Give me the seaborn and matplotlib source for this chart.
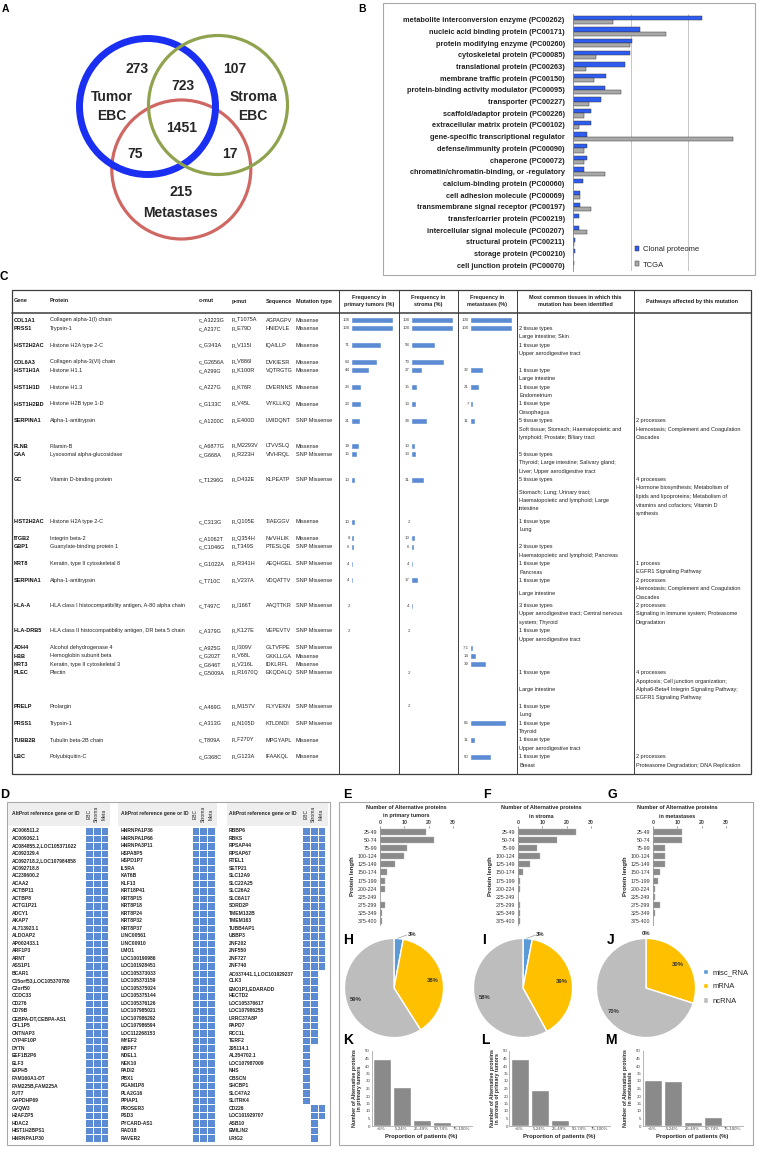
import pandas as pd
import seaborn as sns
import matplotlib.pyplot as plt
from matplotlib.patches import Circle, Rectangle
from matplotlib.colors import ListedColormap

sns.set_theme(style="white")
plt.rcParams['font.family'] = ['Liberation Sans', 'DejaVu Sans']

W, H = 758, 1150

# ---------------- data ----------------
# A: Venn
venn_counts = [273, 723, 107, 1451, 75, 17, 215]
venn_names = [['Tumor', 'EBC'], ['Stroma', 'EBC'], ['Metastases']]

# B: protein classes (% of proteins)
pc_classes = ['metabolite interconversion enzyme (PC00262)', 'nucleic acid binding protein (PC00171)',
              'protein modifying enzyme (PC00260)', 'cytoskeletal protein (PC00085)',
              'translational protein (PC00263)', 'membrane traffic protein (PC00150)',
              'protein-binding activity modulator (PC00095)', 'transporter (PC00227)',
              'scaffold/adaptor protein (PC00226)', 'extracellular matrix protein (PC00102)',
              'gene-specific transcriptional regulator', 'defense/immunity protein (PC00090)',
              'chaperone (PC00072)', 'chromatin/chromatin-binding, or -regulatory',
              'calcium-binding protein (PC00060)', 'cell adhesion molecule (PC00069)',
              'transmembrane signal receptor (PC00197)', 'transfer/carrier protein (PC00219)',
              'intercellular signal molecule (PC00207)', 'structural protein (PC00211)',
              'storage protein (PC00210)', 'cell junction protein (PC00070)']
clonal = [22.4, 11.7, 10.3, 9.9, 9.1, 5.8, 5.6, 4.8, 3.2, 3.1, 2.4, 2.4, 2.4, 1.9, 1.8, 1.2, 1.2, 1.0, 1.0, 0.3, 0.3, 0.2]
tcga = [7.0, 16.2, 9.8, 4.0, 2.3, 3.7, 8.3, 2.8, 1.9, 1.0, 27.7, 1.9, 1.9, 5.6, 0.0, 1.3, 3.1, 0.0, 2.4, 0.2, 0.0, 0.0]

# C: mutation table
genes = ['COL1A1', 'PRSS1', 'HIST2H2AC', 'COL6A3', 'HIST1H1A', 'HIST1H1D', 'HIST1H2BD', 'SERPINA1', 'FLNB', 'GAA',
         'GC', 'HIST2H2AC', 'ITGB2', 'GBP1', 'KRT8', 'SERPINA1', 'HLA-A', 'HLA-DRB5', 'ADH4', 'HBB', 'KRT3', 'PLEC',
         'PRELP', 'PRSS1', 'TUBB2B', 'UBC']
proteins = ['Collagen alpha-1(I) chain', 'Trypsin-1', 'Histone H2A type 2-C', 'Collagen alpha-3(VI) chain',
            'Histone H1.1', 'Histone H1.3', 'Histone H2B type 1-D', 'Alpha-1-antitrypsin', 'Filamin-B',
            'Lysosomal alpha-glucosidase', 'Vitamin D-binding protein', 'Histone H2A type 2-C', 'Integrin beta-2',
            'Guanylate-binding protein 1', 'Keratin, type II cytoskeletal 8', 'Alpha-1-antitrypsin',
            'HLA class I histocompatibility antigen, A-80 alpha chain',
            'HLA class II histocompatibility antigen, DR beta 5 chain', 'Alcohol dehydrogenase 4',
            'Hemoglobin subunit beta', 'Keratin, type II cytoskeletal 3', 'Plectin', 'Prolargin', 'Trypsin-1',
            'Tubulin beta-2B chain', 'Polyubiquitin-C']
c_mut = ['c_A3223G', 'c_A237C', 'c_G343A', 'c_G2656A', 'c_A299G', 'c_A227G', 'c_G133C', 'c_A1200C', 'c_A6877G',
         'c_G668A', 'c_T1296G', 'c_C313G', 'c_A1062T', 'c_C1046G', 'c_G1022A', 'c_T710C', 'c_T497C', 'c_A379G',
         'c_A925G', 'c_G202T', 'c_G646T', 'c_G5009A', 'c_A469G', 'c_A313G', 'c_T809A', 'c_G368C']
p_mut = ['p_T1075A', 'p_E79D', 'p_V115I', 'p_V886I', 'p_K100R', 'p_K76R', 'p_V45L', 'p_E400D', 'p_M2293V',
         'p_R223H', 'p_D432E', 'p_Q105E', 'p_Q354H', 'p_T349S', 'p_R341H', 'p_V237A', 'p_I166T', 'p_K127E',
         'p_I309V', 'p_V68L', 'p_V216L', 'p_R1670Q', 'p_M157V', 'p_N105D', 'p_F270Y', 'p_G123A']
sequences = ['AGPAGPV', 'HNIDVLE', 'IQAILLP', 'DVKIESR', 'VQTRGTG', 'DVERNNS', 'VYKLLKQ', 'LMIDQNT', 'LTVVSLQ',
             'VIVHRQL', 'KLPEATP', 'TIAEGGV', 'NVVHLIK', 'PTESLQE', 'AEQHGEL', 'VDQATTV', 'AAQTTKR', 'VEPEVTV',
             'GLTVFPE', 'GKKLLGA', 'IDKLRFL', 'EKQDALQ', 'FLYVEKN', 'KTLDNDI', 'MPGYAPL', 'IFAAKQL']
mut_types = ['Missense', 'Missense', 'Missense', 'Missense', 'Missense', 'Missense', 'Missense', 'SNP Missense',
             'Missense', 'SNP Missense', 'SNP Missense', 'Missense', 'Missense', 'SNP Missense', 'SNP Missense',
             'SNP Missense', 'SNP Missense', 'SNP Missense', 'SNP Missense', 'Missense', 'Missense', 'SNP Missense',
             'SNP Missense', 'SNP Missense', 'Missense', 'Missense']
freq_primary = [100, 100, 71, 63, 44, 23, 23, 21, 19, 15, 10, 10, 8, 6, 4, 4, 2, 2,
                None, None, None, None, None, None, None, None]
freq_stroma = [100, 100, 58, 79, 27, 15, 13, 38, 10, 13, 31, 2, 10, 6, 4, 17, 4, 2,
               None, None, None, 2, 2, None, None, None]
freq_meta = [100, 100, None, None, 32, 21, 7, 11, None, None, None, None, None, None, None, None, None, None,
             7.1, 14, 39, None, None, 86, 11, 50]
tissue_text = [['2 tissue types', 'Large intestine; Skin'], ['1 tissue type', 'Upper aerodigestive tract'],
               ['1 tissue type', 'Large intestine'], ['1 tissue type', 'Endometrium'],
               ['1 tissue type', 'Oesophagus'],
               ['5 tissue types', 'Soft tissue; Stomach; Haematopoietic and', 'lymphoid; Prostate; Biliary tract'],
               ['5 tissue types', 'Thyroid; Large intestine; Salivary gland;', 'Liver; Upper aerodigestive tract'],
               ['5 tissue types'],
               ['Stomach; Lung; Urinary tract;', 'Haematopoietic and lymphoid; Large', 'intestine'],
               ['1 tissue type', 'Lung'], ['2 tissue types', 'Haematopoietic and lymphoid; Pancreas'],
               ['1 tissue type', 'Pancreas'], ['1 tissue type'], ['Large intestine'],
               ['3 tissue types', 'Upper aerodigestive tract; Central nervous', 'system; Thyroid'],
               ['1 tissue type', 'Upper aerodigestive tract'], ['1 tissue type'], ['Large intestine'],
               ['1 tissue type', 'Lung'], ['1 tissue type', 'Thyroid'],
               ['1 tissue type', 'Upper aerodigestive tract'], ['1 tissue type', 'Breast']]
pathway_text = [['2 processes', 'Hemostasis; Complement and Coagulation', 'Cascades'],
                ['4 processes', 'Hormone biosynthesis; Metabolism of', 'lipids and lipoproteins; Metabolism of',
                 'vitamins and cofactors; Vitamin D', 'synthesis'],
                ['1 process', 'EGFR1 Signaling Pathway'],
                ['2 processes', 'Hemostasis; Complement and Coagulation', 'Cascades'],
                ['2 processes', 'Signaling in Immune system; Proteasome', 'Degradation'],
                ['4 processes', 'Apoptosis; Cell junction organization;',
                 'Alpha6-Beta4 Integrin Signaling Pathway;', 'EGFR1 Signaling Pathway'],
                ['2 processes', 'Proteasome Degradation; DNA Replication']]

# D: AltProt lists and detection (EBC, Stroma, Meta)
d_col1 = ['AC006511.2', 'AC009362.1', 'AC084855.2,LOC105371022', 'AC092329.4', 'AC092718.2,LOC107984858',
          'AC092718.8', 'AC239600.2', 'ACAA2', 'ACTBP11', 'ACTBP8', 'ACTG1P21', 'ADCY1', 'AKAP7', 'AL713923.1',
          'ALDOAP2', 'AP002433.1', 'ARF1P3', 'ARNT', 'ASS1P1', 'BCAR1', 'C15orf53,LOC105370780', 'C2orf50',
          'CCDC33', 'CD276', 'CD79B', 'CEBPA-DT,CEBPA-AS1', 'CFL1P5', 'CNTNAP3', 'CYP4F10P', 'DYTN', 'EEF1B2P6',
          'ELF3', 'EXPH5', 'FAM160A1-DT', 'FAM225B,FAM225A', 'FUT7', 'GAPDHP69', 'GVQW3', 'H2AFZP5', 'HDAC2',
          'HIST1H2BPS1', 'HNRNPA1P30']
d_col2 = ['HNRNPA1P36', 'HNRNPA1P66', 'HNRNPA3P11', 'HSPA8P5', 'HSPD1P7', 'IL5RA', 'KAT6B', 'KLF13', 'KRT18P41',
          'KRT8P15', 'KRT8P18', 'KRT8P24', 'KRT8P32', 'KRT8P37', 'LINC00561', 'LINC00910', 'LMO1', 'LOC100190986',
          'LOC101928451', 'LOC105373033', 'LOC105373159', 'LOC105375024', 'LOC105375144', 'LOC105376126',
          'LOC107985021', 'LOC107986292', 'LOC107986594', 'LOC112268153', 'MYEF2', 'NBPF7', 'NDEL1', 'NEK10',
          'PADI2', 'PBX1', 'PGAM1P8', 'PLA2G16', 'PPIAP1', 'PROSER3', 'PSD3', 'PYCARD-AS1', 'RAD18', 'RAVER2']
d_col3 = ['RBBP6', 'RBKS', 'RPSAP44', 'RPSAP67', 'RTEL1', 'SETP21', 'SLC12A9', 'SLC22A25', 'SLC26A2', 'SLC6A17',
          'SORD2P', 'TMEM132B', 'TMEM163', 'TUBB4AP1', 'UBBP3', 'ZNF202', 'ZNF550', 'ZNF727', 'ZNF740',
          'AC037441.1,LOC101929237', 'CLK3', 'ENO1P1,EDARADD', 'HECTD2', 'LOC105376617', 'LOC107986255',
          'LRRC37A8P', 'PAPD7', 'RCC1L', 'TERF2', 'Z95114.1', 'AL354702.1', 'LOC107987009', 'NHS', 'OBSCN',
          'SHCBP1', 'SLC47A2', 'SLITRK4', 'CD226', 'LOC101929707', 'ASB10', 'EMILIN2', 'LRIG2']
d3_ebc = [1, 1, 1, 1, 1, 1, 1, 1, 1, 1, 1, 1, 1, 1, 1, 1, 1, 1, 1, 1, 1, 1, 1, 1, 1, 1, 1, 1, 1,
          1, 1, 1, 1, 1, 1, 1, 1, 0, 0, 0, 0, 0]
d3_stroma = [1, 1, 1, 1, 1, 1, 1, 1, 1, 1, 1, 1, 1, 1, 1, 1, 1, 1, 1, 1, 1, 1, 1, 1, 1, 1, 1, 1, 1,
             0, 0, 0, 0, 0, 0, 0, 0, 1, 1, 1, 1, 1]
d3_meta = [1, 1, 1, 1, 1, 1, 1, 1, 1, 1, 1, 1, 1, 1, 1, 1, 1, 1, 1, 0, 0, 0, 0, 0, 0, 0, 0, 0, 0,
           0, 0, 0, 0, 0, 0, 0, 0, 1, 1, 0, 0, 0]

# E-G: protein length distributions
length_bins = ['25-49', '50-74', '75-99', '100-124', '125-149', '150-174', '175-199', '200-224', '225-249',
               '275-299', '325-349', '375-400']
len_primary = [19, 22, 11, 10, 6, 3, 2, 2, 0, 2, 1, 1]
len_stroma = [24, 16, 8, 9, 5, 2, 1, 1, 0, 1, 1, 1]
len_meta = [12, 12, 5, 5, 5, 3, 2, 1, 1, 3, 1, 0]

# H-J: RNA type (%)
rna_types = ['misc_RNA', 'mRNA', 'ncRNA']
pie_primary = [3, 38, 59]
pie_stroma = [3, 39, 58]
pie_meta = [0, 30, 70]

# K-M: proportion of patients
patient_bins = ['<5%', '5-24%', '25-49%', '50-74%', '75-100%']
prop_primary = [45, 26, 4, 3, 0]
prop_stroma = [45, 24, 4, 0, 0]
prop_meta = [31, 30, 3, 6, 0]

# ---------------- layout ----------------
fig = plt.figure(figsize=(W / 100, H / 100), dpi=100)


def px_axes(x0, y0, x1, y1):
    return fig.add_axes([x0 / W, 1 - y1 / H, (x1 - x0) / W, (y1 - y0) / H])


ov = px_axes(0, 0, W, H)
ov.set_xlim(0, W)
ov.set_ylim(H, 0)
ov.axis('off')

for s, x, y, fs in [('A', 5, 9, 7.5), ('B', 362, 9, 7.5), ('C', 4, 277, 8.5), ('D', 5, 795, 9),
                    ('E', 347, 795, 9), ('F', 487, 795, 9), ('G', 612, 795, 9),
                    ('H', 348, 940, 10), ('I', 484, 940, 10), ('J', 611, 940, 10),
                    ('K', 348, 1040, 10), ('L', 485, 1040, 10), ('M', 611, 1040, 10)]:
    ov.text(x, y, s, fontsize=fs, fontweight='bold', ha='center', va='center', color='black')

# ---- A: Venn ----
for (cx, cy), r, col, lw in [((181.3, 169.5), 69.5, '#cf6863', 2.3), ((147.5, 106.5), 68, '#1a2ff2', 5.0),
                             ((218, 105), 69.5, '#8fa34e', 2.3)]:
    ov.add_patch(Circle((cx, cy), r, fill=False, ec=col, lw=lw))
venn_pos = [(137, 69), (183, 86), (235, 69), (182, 128), (135, 154), (230, 154), (181, 192)]
for n, (x, y) in zip(venn_counts, venn_pos):
    ov.text(x, y, str(n), fontsize=10, fontweight='bold', ha='center', va='center')
for lines, (x, y) in zip(venn_names, [(112, 97), (253, 97), (181, 213)]):
    for i, t in enumerate(lines):
        ov.text(x, y + 19 * i, t, fontsize=10, fontweight='bold', ha='center', va='center')

# ---- B ----
ov.add_patch(Rectangle((383, 3), 372, 272, fill=False, ec='#a8a8a8', lw=0.8))
axB = px_axes(573, 14, 746, 271)
dfB = pd.DataFrame({'cls': pc_classes * 2, 'pct': clonal + tcga,
                    'src': ['Clonal proteome'] * len(pc_classes) + ['TCGA'] * len(pc_classes)})
sns.barplot(data=dfB, y='cls', x='pct', hue='src', orient='h', palette=['#2e5cf2', '#a9a9a9'], width=0.72,
            saturation=1, edgecolor='#3a3a3a', linewidth=0.35, ax=axB)
axB.set_xlim(0, 30)
axB.set_xticks([10, 20, 30])
axB.xaxis.grid(True, color='#bdbdbd', lw=0.6)
axB.tick_params(axis='x', labelbottom=False, length=0)
axB.tick_params(axis='y', labelsize=5.3, pad=6, length=0)
for lab in axB.get_yticklabels():
    lab.set_fontweight('bold')
    lab.set_color('#222222')
axB.set_xlabel('')
axB.set_ylabel('')
for sp in ['top', 'right', 'bottom']:
    axB.spines[sp].set_visible(False)
axB.spines['left'].set_color('#888888')
axB.spines['left'].set_linewidth(0.6)
axB.patch.set_visible(False)
axB.legend(loc='upper left', bbox_to_anchor=(628 / W, 1 - 239 / H), bbox_transform=fig.transFigure,
           frameon=False, fontsize=5.5, handlelength=0.6, handleheight=0.6, labelspacing=1.1,
           handletextpad=0.4, title=None)

# ---- C: table ----
def line_y(k):
    return 320 + 8.4 * k


row_line = [0, 1, 3, 5, 6, 8, 10, 12, 15, 16, 19, 24, 26, 27, 29, 31, 34, 37, 39, 40, 41, 42, 46, 48, 50, 52]
tissue_line = [1, 3, 6, 8, 10, 12, 16, 19, 20.5, 24, 27, 29, 31, 32.5, 34, 37, 42, 44, 46, 48, 50, 52]
pathway_line = [12, 19, 29, 31, 34, 42, 52]
col_x = [14, 50, 199, 232, 266, 296]
fc_left = [339, 399, 458]
line_c = '#3c3c3c'
ov.add_patch(Rectangle((12, 290), 739, 484, fill=False, ec=line_c, lw=0.9))
ov.plot([12, 751], [313, 313], color=line_c, lw=1.1)
for x in [339, 399, 458, 517, 634]:
    ov.plot([x, x], [290, 774], color=line_c, lw=0.7)
hdr = dict(fontsize=4, fontweight='bold', va='center', color='#222222')
for x, t in zip(col_x, ['Gene', 'Protein', 'c-mut', 'p-mut', 'Sequence', 'Mutation type']):
    ov.text(x, 301, t, ha='left', **hdr)
for x, t in zip([369, 428.5, 487.5, 575.5], ['Frequency in\nprimary tumors (%)', 'Frequency in\nstroma (%)',
                                            'Frequency in\nmetastases (%)',
                                            'Most common tissues in which this\nmutation has been identified']):
    ov.text(x, 301, t, ha='center', linespacing=1.5, **hdr)
ov.text(692.5, 301, 'Pathways affected by this mutation', ha='center', **hdr)

for i, k in enumerate(row_line):
    y = line_y(k)
    ov.text(col_x[0], y, genes[i], fontsize=4, fontweight='bold', va='center', color='#111111')
    for x, col in zip(col_x[1:], [proteins, c_mut, p_mut, sequences, mut_types]):
        ov.text(x, y, col[i], fontsize=4, va='center', color='#222222')
for k0, lines in zip(tissue_line, tissue_text):
    for j, t in enumerate(lines):
        ov.text(519, line_y(k0 + j), t, fontsize=4, va='center', color='#222222')
for k0, lines in zip(pathway_line, pathway_text):
    for j, t in enumerate(lines):
        ov.text(636, line_y(k0 + j), t, fontsize=4, va='center', color='#222222')

for left, freqs in zip(fc_left, [freq_primary, freq_stroma, freq_meta]):
    ax = px_axes(left + 12, line_y(-0.5), left + 54, line_y(53.5))
    pairs = [(k, v) for k, v in zip(row_line, freqs) if v is not None]
    dfc = pd.DataFrame({'line': [p[0] for p in pairs], 'freq': [p[1] for p in pairs]})
    sns.barplot(data=dfc, x='freq', y='line', orient='y', native_scale=True, color='#5b8cd3',
                saturation=1, width=0.72, ax=ax)
    ax.set_xlim(0, 100)
    ax.set_ylim(53.5, -0.5)
    ax.axis('off')
    for k, v in pairs:
        lab = str(int(v)) if float(v).is_integer() else str(v).replace('.', ',')
        ax.text(-3, k, lab, fontsize=3.2, ha='right', va='center', color='#444444', clip_on=False)

# ---- D ----
ov.add_patch(Rectangle((7, 802), 323, 343, fill=False, ec='#a8a8a8', lw=0.8))
d_blocks = [(d_col1, [[1, 1, 1]] * len(d_col1), 12, 85, 8, 110),
            (d_col2, [[1, 1, 1]] * len(d_col2), 121, 191.5, 118, 217),
            (d_col3, [list(t) for t in zip(d3_ebc, d3_stroma, d3_meta)], 229, 302, 227, 328)]
row_h = 7.49
for names, mat, tx, hx, bx0, bx1 in d_blocks:
    ov.add_patch(Rectangle((bx0, 803), bx1 - bx0, 23, fc='#eeeeee', ec='none'))
    ov.text(tx, 814, 'AltProt reference gene or ID', fontsize=3.6, fontweight='bold', va='center')
    for j, t in enumerate(['EBC', 'Stroma', 'Meta']):
        ov.text(hx + 3.9 + 7.8 * j, 814, t, fontsize=3.6, rotation=90, ha='center', va='center')
    for i, nm in enumerate(names):
        ov.text(tx, 831 + row_h * i, nm, fontsize=3.6, fontweight='bold', va='center', color='#222222')
    ax = px_axes(hx, 831 - row_h / 2, hx + 23.4, 831 + row_h * (len(names) - 0.5))
    sns.heatmap(pd.DataFrame(mat, columns=['EBC', 'Stroma', 'Meta']), cmap=ListedColormap(['white', '#5b8cd3']),
                vmin=0, vmax=1, cbar=False, linewidths=0.7, linecolor='white',
                xticklabels=False, yticklabels=False, ax=ax)

# ---- E-M box ----
ov.add_patch(Rectangle((339, 802), 414, 343, fill=False, ec='#a8a8a8', lw=0.8))

# E-G
for x0, vals, sub, tcx in [(380, len_primary, 'in primary tumors', 406),
                           (518, len_stroma, 'in stroma', 541),
                           (653, len_meta, 'in metastases', 677)]:
    ov.text(tcx, 808, 'Number of Alternative proteins', fontsize=4, fontweight='bold', ha='center', va='center')
    ov.text(tcx, 816, sub, fontsize=4, fontweight='bold', ha='center', va='center')
    ax = px_axes(x0, 828, x0 + 73, 925)
    sns.barplot(x=vals, y=length_bins, orient='h', color='#8a8a8a', saturation=1, width=0.75,
                edgecolor='#b5b5b5', linewidth=0.3, ax=ax)
    ax.set_xlim(0, 30)
    ax.set_xticks([0, 10, 20, 30])
    ax.xaxis.tick_top()
    ax.tick_params(axis='x', labelsize=3.8, pad=1, length=1.5, width=0.4, colors='#444444', top=True)
    ax.tick_params(axis='y', labelsize=3.8, pad=2, length=0, colors='#333333')
    for lab in ax.get_xticklabels():
        lab.set_fontweight('bold')
    ax.set_ylabel('Protein length', fontsize=4.2, fontweight='bold', labelpad=2)
    for sp in ['top', 'right', 'bottom']:
        ax.spines[sp].set_visible(False)
    ax.spines['left'].set_color('#999999')
    ax.spines['left'].set_linewidth(0.6)
    ax.patch.set_visible(False)

# H-J pies
pie_colors = ['#5b9bd5', '#ffc000', '#bdbdbd']
for cx, vals, lab_pos, leader in [(394, pie_primary, (0.28, 1.08), True),
                                  (523, pie_stroma, (0.26, 1.08), True),
                                  (646, pie_meta, (0.0, 1.1), False)]:
    ax = px_axes(cx - 62, 988 - 62, cx + 62, 988 + 62)
    wedges, _, autotexts = ax.pie(vals, colors=pie_colors, startangle=90, counterclock=False,
                                  autopct=lambda p: f'{p:.0f}%', pctdistance=0.8,
                                  textprops=dict(fontsize=4.2, fontweight='bold', color='#333333'))
    autotexts[0].set_position(lab_pos)
    autotexts[0].set_ha('left' if leader else 'center')
    if leader:
        ax.plot([0.07, 0.26], [1.0, 1.07], color='#888888', lw=0.4)
    ax.set_xlim(-1.25, 1.25)
    ax.set_ylim(-1.25, 1.25)
ax.legend(wedges, rna_types, loc='upper left', bbox_to_anchor=(696 / W, 1 - 962 / H),
          bbox_transform=fig.transFigure, frameon=False, fontsize=5.5, handlelength=0.7, handleheight=0.7,
          labelspacing=0.9, handletextpad=0.5)

# K-M
for x0, vals, ylab in [(371.5, prop_primary, 'Number of Alternative proteins\nin primary tumors'),
                       (509.5, prop_stroma, 'Number of Alternative proteins\nin stroma of primary tumors'),
                       (642.5, prop_meta, 'Number of Alternative proteins\nin metastasis')]:
    ax = px_axes(x0, 1051, x0 + 100, 1126)
    sns.barplot(x=patient_bins, y=vals, color='#8a8a8a', saturation=1, width=0.9, ax=ax)
    ax.set_xlim(-0.5, 4.5)
    ax.set_ylim(0, 50)
    ax.set_yticks(range(0, 51, 5))
    ax.tick_params(axis='both', labelsize=3.2, pad=1, length=0, colors='#444444')
    ax.set_xlabel('Proportion of patients (%)', fontsize=4.2, fontweight='bold', labelpad=2)
    ax.set_ylabel(ylab, fontsize=3.8, fontweight='bold', labelpad=2, linespacing=1.1)
    for sp in ['top', 'right']:
        ax.spines[sp].set_visible(False)
    for sp in ['left', 'bottom']:
        ax.spines[sp].set_color('#aaaaaa')
        ax.spines[sp].set_linewidth(0.6)
    ax.patch.set_visible(False)

fig.savefig('out.png', dpi=100)
